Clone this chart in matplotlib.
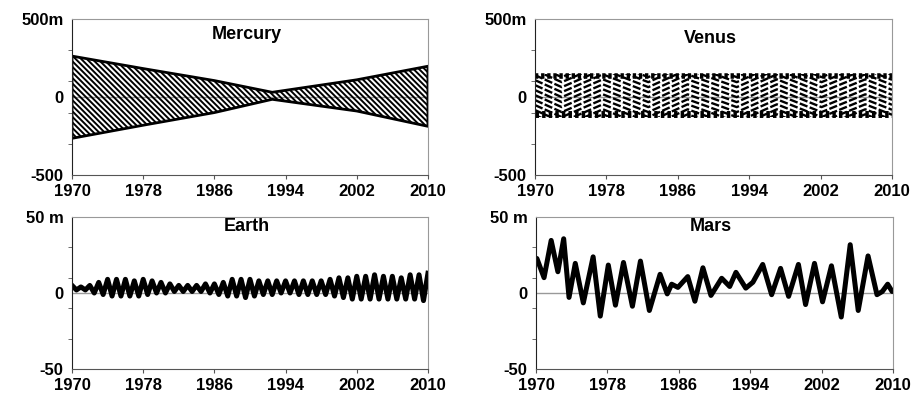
import numpy as np
import matplotlib
matplotlib.use('Agg')
import matplotlib.pyplot as plt
from matplotlib.patches import Rectangle

plt.rcParams.update({
    'font.family': 'Liberation Sans',
    'font.weight': 'bold',
    'font.size': 12,
    'hatch.linewidth': 1.4,
})

YEAR_TICKS = [1970, 1978, 1986, 1994, 2002, 2010]

# ── Mercury: envelope of the dense band (m) ──────────────────────────────────
MERCURY_YEARS = [1970, 1978, 1986, 1992.5, 2002, 2010]
MERCURY_UPPER = [262, 182, 105, 30, 110, 197]
MERCURY_LOWER = [-265, -181, -100, -15, -90, -188]

# ── Venus: flat band with chevron rows (m) ───────────────────────────────────
VENUS_BAND = [-128, 150]
VENUS_TURN_YEARS = [1970, 1973.0, 1977.6, 1982.7, 1987.1, 1992.6, 1997.1, 2002.1, 2007.0, 2010]
VENUS_TURN_SHIFT = [20, -57, 57, -57, 57, -57, 57, -57, 57, -10]
VENUS_ROWS = [-200, -168, -136, -104, -72, -40, -8, 24, 56, 88, 120, 152, 184, 216]

# ── Earth: yearly maxima / minima (m) ────────────────────────────────────────
EARTH_PEAK_YEARS = list(range(1970, 2011))
EARTH_PEAKS = [5, 4, 5, 7, 9, 9, 9, 8, 9, 8,
               7, 6, 5, 5, 5, 6, 6, 7, 9, 9,
               9, 8, 8, 8, 8, 8, 8, 8, 8, 9,
               10, 10, 11, 11, 12, 11, 11, 10, 12, 12,
               13]
EARTH_TROUGHS = [2, 2, 0, -1, -2, -2, -2, -2, -1, 0,
                 0, 1, 1, 1, 1, 0, -1, -2, -2, -3,
                 -2, -1, -1, 0, 0, -1, -1, -1, -1, -2,
                 -3, -4, -4, -4, -4, -4, -4, -4, -4, -5]

# ── Mars: turning points of the curve (m) ────────────────────────────────────
MARS_YEARS = [1970.1, 1970.9, 1971.7, 1972.45, 1973.1, 1973.7, 1974.4, 1975.3, 1976.4, 1977.2,
              1978.1, 1978.9, 1979.8, 1980.8, 1981.7, 1982.7, 1983.9, 1984.7, 1985.2, 1985.9,
              1987.0, 1987.8, 1988.7, 1989.6, 1990.8, 1991.7, 1992.4, 1993.5, 1994.3, 1995.4,
              1996.4, 1997.4, 1998.3, 1999.4, 2000.2, 2001.2, 2002.1, 2003.1, 2004.2, 2005.2,
              2006.1, 2007.2, 2008.2, 2008.8, 2009.4, 2009.9]
MARS_VALUES = [22.7, 10.1, 34.6, 14.0, 35.7, -2.9, 19.5, -6.5, 23.8, -15.2,
               18.4, -8.0, 20.1, -8.7, 21.0, -11.5, 12.3, -0.6, 5.8, 3.7,
               10.8, -5.4, 16.6, -1.6, 9.7, 4.3, 13.6, 3.2, 7.1, 18.8,
               -1.1, 16.2, -2.2, 18.8, -7.6, 19.5, -5.8, 17.9, -15.8, 31.8,
               -11.5, 24.4, -1.1, 1.0, 5.8, 1.0]


def style_axes(ax, top, unit, title, title_y):
    ax.set_xlim(1970, 2010)
    ax.set_ylim(-top, top)
    ax.axhline(0, color='#999999', lw=1, zorder=1)
    ax.set_xticks(YEAR_TICKS)
    ax.set_xticklabels([str(y) for y in YEAR_TICKS], fontweight='bold')
    ax.set_yticks([-top, 0, top])
    ax.set_yticklabels([str(-top), '0', f'{top}{unit}'], fontweight='bold')
    ax.set_yticks([-top, -0.6 * top, -0.2 * top, 0.2 * top, 0.6 * top, top], minor=True)
    ax.tick_params(axis='y', which='major', length=0, pad=6)
    ax.tick_params(axis='y', which='minor', length=3, color='#555555')
    ax.tick_params(axis='x', length=3, pad=3.5, color='#555555')
    ax.spines['left'].set_color('#222222')
    ax.spines['bottom'].set_color('#555555')
    ax.spines['top'].set_color('#999999')
    ax.spines['right'].set_color('#999999')
    ax.text(0.49, title_y, title, transform=ax.transAxes, ha='center', va='center',
            fontsize=13, fontweight='bold')


fig = plt.figure(figsize=(9.15, 3.95), dpi=100)
ax_me = fig.add_axes([0.0787, 0.557, 0.389, 0.395])
ax_ve = fig.add_axes([0.5847, 0.557, 0.3902, 0.395])
ax_ea = fig.add_axes([0.0787, 0.0658, 0.389, 0.3848])
ax_ma = fig.add_axes([0.5858, 0.0658, 0.3902, 0.3848])

# Mercury
ax_me.fill_between(MERCURY_YEARS, MERCURY_LOWER, MERCURY_UPPER, facecolor='none',
                   edgecolor='black', hatch='\\' * 6, linewidth=2.0, zorder=2)
style_axes(ax_me, 500, 'm', 'Mercury', 0.90)

# Venus
clip = Rectangle((1970, VENUS_BAND[0]), 40, VENUS_BAND[1] - VENUS_BAND[0], transform=ax_ve.transData)
shift = np.array(VENUS_TURN_SHIFT)
for level in VENUS_ROWS:
    line, = ax_ve.plot(VENUS_TURN_YEARS, level + shift, color='black', lw=1.7,
                       linestyle=(0, (3.5, 1.0)), zorder=2)
    line.set_clip_path(clip)
ax_ve.plot([1970, 2010], [VENUS_BAND[1] - 14] * 2, color='black', lw=4,
           linestyle=(0, (0.6, 0.5)), zorder=2)
ax_ve.plot([1970, 2010], [VENUS_BAND[0] + 22] * 2, color='black', lw=5,
           linestyle=(0, (0.5, 0.45)), zorder=2)
style_axes(ax_ve, 500, 'm', 'Venus', 0.877)

# Earth
earth_x = np.empty(len(EARTH_PEAKS) + len(EARTH_TROUGHS))
earth_y = np.empty_like(earth_x)
earth_x[0::2] = EARTH_PEAK_YEARS
earth_y[0::2] = EARTH_PEAKS
earth_x[1::2] = np.array(EARTH_PEAK_YEARS[:-1]) + 0.5
earth_y[1::2] = EARTH_TROUGHS
ax_ea.plot(earth_x, earth_y, color='black', lw=3.6, solid_joinstyle='round', zorder=2)
style_axes(ax_ea, 50, ' m', 'Earth', 0.937)

# Mars
ax_ma.plot(MARS_YEARS, MARS_VALUES, color='black', lw=3.6, solid_joinstyle='round',
           solid_capstyle='round', zorder=2)
style_axes(ax_ma, 50, ' m', 'Mars', 0.94)

fig.savefig('out.png', dpi=100, facecolor='white')
